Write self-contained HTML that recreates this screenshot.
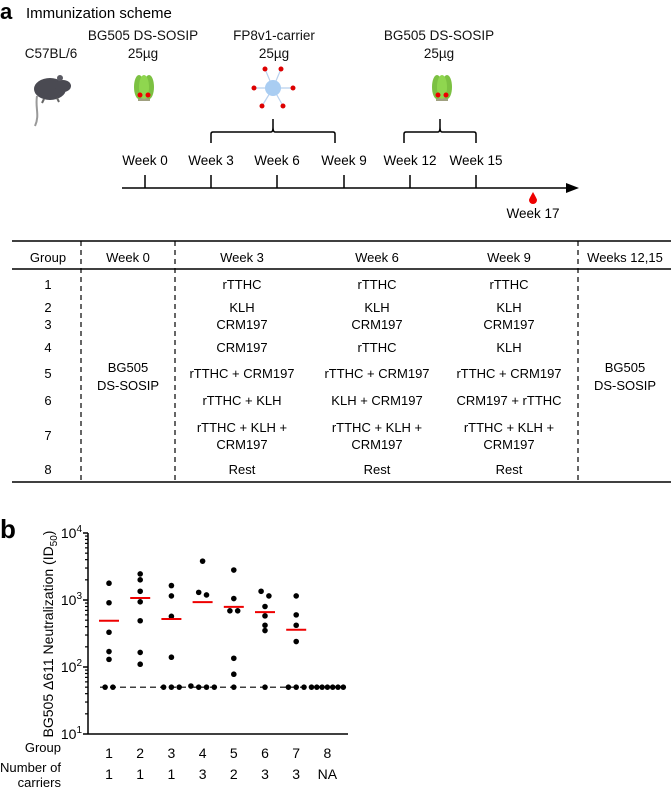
<!DOCTYPE html>
<html><head><meta charset="utf-8"><style>
html,body{margin:0;padding:0;background:#fff;}
svg{display:block;font-family:"Liberation Sans",sans-serif;}
</style></head><body>
<svg id="fig" width="671" height="788" viewBox="0 0 671 788" xmlns="http://www.w3.org/2000/svg">
<!-- Panel a -->
<text x="0" y="19" font-size="22" font-weight="bold">a</text>
<text x="26" y="18" font-size="15">Immunization scheme</text>
<g font-size="13.5" text-anchor="middle" fill="#111">
<text x="51" y="58">C57BL/6</text>
<text x="143" y="40">BG505 DS-SOSIP</text>
<text x="143" y="58">25µg</text>
<text x="274" y="40">FP8v1-carrier</text>
<text x="274" y="58">25µg</text>
<text x="439" y="40">BG505 DS-SOSIP</text>
<text x="439" y="58">25µg</text>
</g>
<!-- mouse -->
<g>
<path d="M37,96 C35,108 40,115 35,126" stroke="#999" stroke-width="2" fill="none"/>
<ellipse cx="50" cy="89" rx="16" ry="11" fill="#4a4a52"/>
<ellipse cx="63" cy="86" rx="8" ry="6" fill="#4a4a52"/>
<circle cx="60" cy="78" r="3" fill="#5a5a62"/>
<path d="M44,99 l-2,4 M57,98 l2,4" stroke="#666" stroke-width="2"/>
</g>
<!-- trimers -->
<g>
<rect x="138" y="96" width="12" height="5" fill="#a0a080"/>
<ellipse cx="139" cy="87" rx="5" ry="12" fill="#7cc142"/>
<ellipse cx="149" cy="87" rx="5" ry="12" fill="#7cc142"/>
<ellipse cx="144" cy="87" rx="5" ry="12" fill="#8fd64f"/>
<circle cx="140" cy="95" r="2.5" fill="#e00"/><circle cx="148" cy="95" r="2.5" fill="#e00"/>
</g>
<g transform="translate(298,0)">
<rect x="138" y="96" width="12" height="5" fill="#a0a080"/>
<ellipse cx="139" cy="87" rx="5" ry="12" fill="#7cc142"/>
<ellipse cx="149" cy="87" rx="5" ry="12" fill="#7cc142"/>
<ellipse cx="144" cy="87" rx="5" ry="12" fill="#8fd64f"/>
<circle cx="140" cy="95" r="2.5" fill="#e00"/><circle cx="148" cy="95" r="2.5" fill="#e00"/>
</g>
<g stroke="#b8d0ee" stroke-width="1.2">
<line x1="273" y1="88" x2="265" y2="69"/><line x1="273" y1="88" x2="281" y2="69"/>
<line x1="273" y1="88" x2="254" y2="88"/><line x1="273" y1="88" x2="293" y2="88"/>
<line x1="273" y1="88" x2="262" y2="106"/><line x1="273" y1="88" x2="283" y2="106"/>
<circle cx="273" cy="88" r="8" fill="#a9cdf2" stroke="none"/>
<g fill="#d00" stroke="none"><circle cx="265" cy="69" r="2.5"/><circle cx="281" cy="69" r="2.5"/><circle cx="254" cy="88" r="2.5"/><circle cx="293" cy="88" r="2.5"/><circle cx="262" cy="106" r="2.5"/><circle cx="283" cy="106" r="2.5"/></g>
</g>
<!-- braces -->
<path d="M211,143 V134 Q211,132 213,132 H271 Q273,132 273,127 V119 V127 Q273,132 275,132 H333 Q335,132 335,134 V143" stroke="#000" stroke-width="1.5" fill="none"/>
<path d="M404,143 V134 Q404,132 406,132 H438 Q440,132 440,127 V119 V127 Q440,132 442,132 H474 Q476,132 476,134 V143" stroke="#000" stroke-width="1.5" fill="none"/>
<!-- timeline -->
<g id="timeline" font-size="13.5" text-anchor="middle"></g>
<line x1="122" y1="188" x2="568" y2="188" stroke="#000" stroke-width="1.5"/>
<path d="M566,183 L579,188 L566,193 Z" fill="#000"/>
<path d="M533,192 Q529,199 529,200 A4,4 0 0 0 537,200 Q537,199 533,192 Z" fill="#e00"/>
<text x="533" y="218" font-size="13.5" text-anchor="middle">Week 17</text>

<!-- table -->
<g id="table" font-size="13" text-anchor="middle">
<line x1="12" y1="241" x2="671" y2="241" stroke="#000" stroke-width="1.5"/>
<line x1="12" y1="269" x2="671" y2="269" stroke="#000" stroke-width="1.5"/>
<line x1="12" y1="482" x2="671" y2="482" stroke="#000" stroke-width="1.5"/>
<g stroke="#000" stroke-width="1.2" stroke-dasharray="5,4">
<line x1="81" y1="241" x2="81" y2="482"/><line x1="175" y1="241" x2="175" y2="482"/><line x1="578" y1="241" x2="578" y2="482"/>
</g>
<text x="48" y="262">Group</text><text x="128" y="262">Week 0</text><text x="242" y="262">Week 3</text><text x="377" y="262">Week 6</text><text x="509" y="262">Week 9</text><text x="625" y="262">Weeks 12,15</text>
<text x="48" y="289">1</text><text x="48" y="312">2</text><text x="48" y="329">3</text><text x="48" y="352">4</text><text x="48" y="378">5</text><text x="48" y="405">6</text><text x="48" y="440">7</text><text x="48" y="474">8</text>
<text x="128" y="372">BG505</text><text x="128" y="390">DS-SOSIP</text>
<text x="625" y="372">BG505</text><text x="625" y="390">DS-SOSIP</text>
<g id="regimens"></g>
</g>

<!-- Panel b -->
<text x="0" y="538" font-size="26" font-weight="bold">b</text>
<g id="chart"></g>
</svg>
<script>
const NS='http://www.w3.org/2000/svg';
function mk(tag,attrs,parent,txt){const e=document.createElementNS(NS,tag);for(const k in attrs)e.setAttribute(k,attrs[k]);if(txt!==undefined)e.textContent=txt;parent.appendChild(e);return e;}
// timeline
const weekLabels=['Week 0','Week 3','Week 6','Week 9','Week 12','Week 15'];
const weekX=[145,211,277,344,410,476];
const tl=document.getElementById('timeline');
weekLabels.forEach((w,i)=>{
  const t=mk('text',{x:weekX[i],y:165},tl,w);
  
  
  const l=mk('line',{x1:weekX[i],y1:175,x2:weekX[i],y2:188,stroke:'#000','stroke-width':1.5},tl);
  
  
});
// regimens table
const reg=document.getElementById('regimens');
const rows=[
 [289,['rTTHC','rTTHC','rTTHC']],
 [312,['KLH','KLH','KLH']],
 [329,['CRM197','CRM197','CRM197']],
 [352,['CRM197','rTTHC','KLH']],
 [378,['rTTHC + CRM197','rTTHC + CRM197','rTTHC + CRM197']],
 [405,['rTTHC + KLH','KLH + CRM197','CRM197 + rTTHC']],
 [432,['rTTHC + KLH +','rTTHC + KLH +','rTTHC + KLH +']],
 [449,['CRM197','CRM197','CRM197']],
 [474,['Rest','Rest','Rest']]];
const colX=[242,377,509];
rows.forEach(r=>r[1].forEach((s,i)=>{
  const t=mk('text',{x:colX[i],y:r[0]},reg,s);
  
  
}));

// ---- chart data ----
const groups=['1','2','3','4','5','6','7','8'];
const carriers=['1','1','1','3','2','3','3','NA'];
const g1=[1780,910,330,170,130,50,50];
const g2=[2450,2000,1350,940,490,165,110];
const g3=[1640,1150,570,140,50,50,50];
const g4=[3800,1300,1190,52,50,50,50];
const g5=[2800,1050,690,690,135,78,50];
const g6=[1350,1150,800,580,420,350,50];
const g7=[1150,600,420,240,50,50,50];
const g8=[50,50,50,50,50,50,50];
const seriesValues=[g1,g2,g3,g4,g5,g6,g7,g8];
const medians=[490,1070,520,930,790,660,360,50];
const limitOfDetection=50;
const yTickLabels=['1','2','3','4'];

const ch=document.getElementById('chart');
const X0=88,X1=348,YT=533,YB=734;
const yScale=v=>YB-(Math.log10(v)-1)/3*(YB-YT);
const xScale=i=>109+i*31.2;
// axes
let a=mk('line',{x1:X0,y1:YT,x2:X0,y2:YB,stroke:'#000','stroke-width':1.5},ch);

a=mk('line',{x1:X0,y1:YB,x2:X1,y2:YB,stroke:'#000','stroke-width':1.5},ch);

yTickLabels.forEach(p=>{
  const v=Math.pow(10,+p), y=yScale(v);
  const tk=mk('line',{x1:X0-5,y1:y,x2:X0,y2:y,stroke:'#000','stroke-width':1.5},ch);
  
  const t=mk('text',{x:82,y:y+5,'font-size':14,'text-anchor':'end'},ch);
  
  mk('tspan',{},t,'10');mk('tspan',{dy:-6,'font-size':10},t,p);
  if(+p<4){for(let m=2;m<=9;m++){const ym=yScale(m*v);
    const mt=mk('line',{x1:X0-3,y1:ym,x2:X0,y2:ym,stroke:'#000','stroke-width':1.2},ch);
    }}
});
const yt=mk('text',{x:0,y:0,'font-size':14,'text-anchor':'middle',transform:'translate(53,634) rotate(-90)'},ch);

mk('tspan',{},yt,'BG505 Δ611 Neutralization (ID');mk('tspan',{dy:4,'font-size':10},yt,'50');mk('tspan',{dy:-4},yt,')');
// LOD line
const ly=yScale(limitOfDetection);
const lod=mk('line',{x1:100,y1:ly,x2:343,y2:ly,stroke:'#000','stroke-width':1.2,'stroke-dasharray':'6,4'},ch);

// points
seriesValues.forEach((vals,gi)=>{
  const cx=xScale(gi);
  vals.forEach((v,j)=>{
    const y=yScale(v);
    const n=vals.filter(w=>Math.abs(yScale(w)-y)<5).length;
    const k=vals.slice(0,j).filter(w=>Math.abs(yScale(w)-y)<5).length;
    const sp=n>5?5.3:7.8;
    const x=cx+(k-(n-1)/2)*sp;
    const c=mk('circle',{cx:x,cy:y,r:2.8,fill:'#000'},ch);
    
    
  });
  if(gi<7){
    const my=yScale(medians[gi]);
    const m=mk('line',{x1:cx-10,y1:my,x2:cx+10,y2:my,stroke:'#e00','stroke-width':2},ch);
    
    
  }
  const gl=mk('text',{x:cx,y:758,'font-size':14,'text-anchor':'middle'},ch,groups[gi]);
  
  const cl=mk('text',{x:cx,y:779,'font-size':14,'text-anchor':'middle'},ch,carriers[gi]);
  
});
let rl=mk('text',{x:61,y:752,'font-size':13,'text-anchor':'end'},ch,'Group');

rl=mk('text',{x:61,y:772,'font-size':13,'text-anchor':'end',textLength:61,lengthAdjust:'spacingAndGlyphs'},ch,'Number of');

rl=mk('text',{x:61,y:787,'font-size':13,'text-anchor':'end'},ch,'carriers');

</script>
</body></html>
